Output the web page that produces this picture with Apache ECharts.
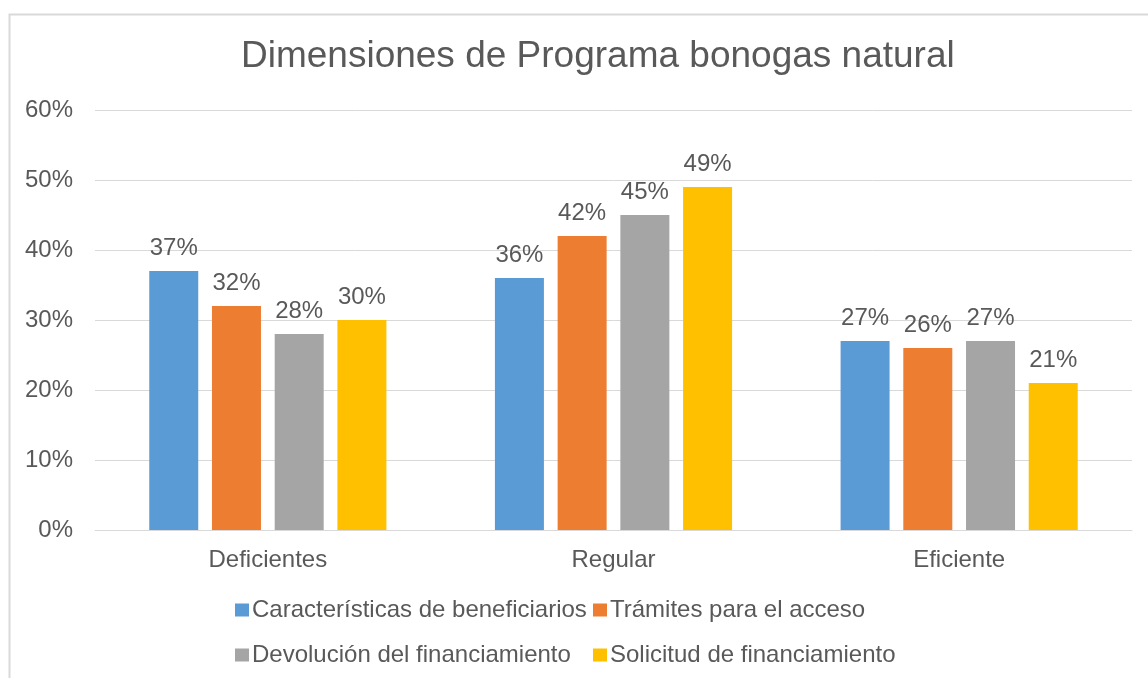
<!DOCTYPE html>
<html>
<head>
<meta charset="utf-8">
<script src="https://cdn.jsdelivr.net/npm/echarts@6/dist/echarts.min.js"></script>
<style>
html, body { margin: 0; padding: 0; background: #fff; }
#chart { width: 1148px; height: 678px; }
</style>
</head>
<body>
<div id="chart"></div>
<script>
// categorias y valores (%)
var categories = ['Deficientes', 'Regular', 'Eficiente'];
var seriesNames = ['Características de beneficiarios', 'Trámites para el acceso', 'Devolución del financiamiento', 'Solicitud de financiamiento'];
var caracteristicas = [37, 36, 27];
var tramites = [32, 42, 26];
var devolucion = [28, 45, 27];
var solicitud = [30, 49, 21];
var colors = ['#5B9BD5', '#ED7D31', '#A5A5A5', '#FFC000'];

var chart = echarts.init(document.getElementById('chart'));
var textColor = '#595959';
var font = 'Liberation Sans, Arial, sans-serif';

function makeSeries(name, data, color) {
    return {
        name: name,
        type: 'bar',
        data: data,
        barWidth: 49,
        barGap: '28%',
        itemStyle: { color: color },
        label: {
            show: true,
            position: 'top',
            distance: 11,
            formatter: '{c}%',
            color: textColor,
            fontSize: 24,
            fontFamily: font
        }
    };
}

//leyenda en dos filas, columnas alineadas
function legendItem(name, left, top) {
    return {
        data: [name],
        left: left,
        top: top,
        padding: 0,
        itemWidth: 14,
        itemHeight: 13,
        itemGap: 0,
        icon: 'rect',
        textStyle: { color: textColor, fontSize: 24, fontFamily: font, padding: [0, 0, 0, -2] }
    };
}

var option = {
    animation: false,
    backgroundColor: '#fff',
    textStyle: { fontFamily: font },
    title: {
        text: 'Dimensiones de Programa bonogas natural',
        left: 241,
        top: 38,
        padding: 0,
        textStyle: { color: textColor, fontSize: 37, fontWeight: 'normal', fontFamily: font }
    },
    graphic: [{
        type: 'rect',
        shape: { x: 9.5, y: 14.5, width: 1200, height: 700 },
        style: { fill: 'none', stroke: '#D9D9D9', lineWidth: 2 },
        silent: true
    }],
    legend: [
        legendItem(seriesNames[0], 235, 598),
        legendItem(seriesNames[1], 593, 598),
        legendItem(seriesNames[2], 235, 643),
        legendItem(seriesNames[3], 593, 643)
    ],
    grid: { left: 95, right: 16, top: 110, bottom: 148 },
    xAxis: {
        type: 'category',
        data: categories,
        axisLine: { lineStyle: { color: '#D9D9D9', width: 1 } },
        axisTick: { show: false },
        axisLabel: { color: textColor, fontSize: 24, margin: 18, fontFamily: font }
    },
    yAxis: {
        type: 'value',
        min: 0,
        max: 60,
        interval: 10,
        axisLine: { show: false },
        axisTick: { show: false },
        splitLine: { lineStyle: { color: '#D9D9D9', width: 1 } },
        axisLabel: { color: textColor, fontSize: 24, margin: 22, padding: [4, 0, 0, 0], formatter: '{value}%', fontFamily: font }
    },
    series: [
        makeSeries(seriesNames[0], caracteristicas, colors[0]),
        makeSeries(seriesNames[1], tramites, colors[1]),
        makeSeries(seriesNames[2], devolucion, colors[2]),
        makeSeries(seriesNames[3], solicitud, colors[3])
    ]
};
chart.setOption(option);
</script>
</body>
</html>
